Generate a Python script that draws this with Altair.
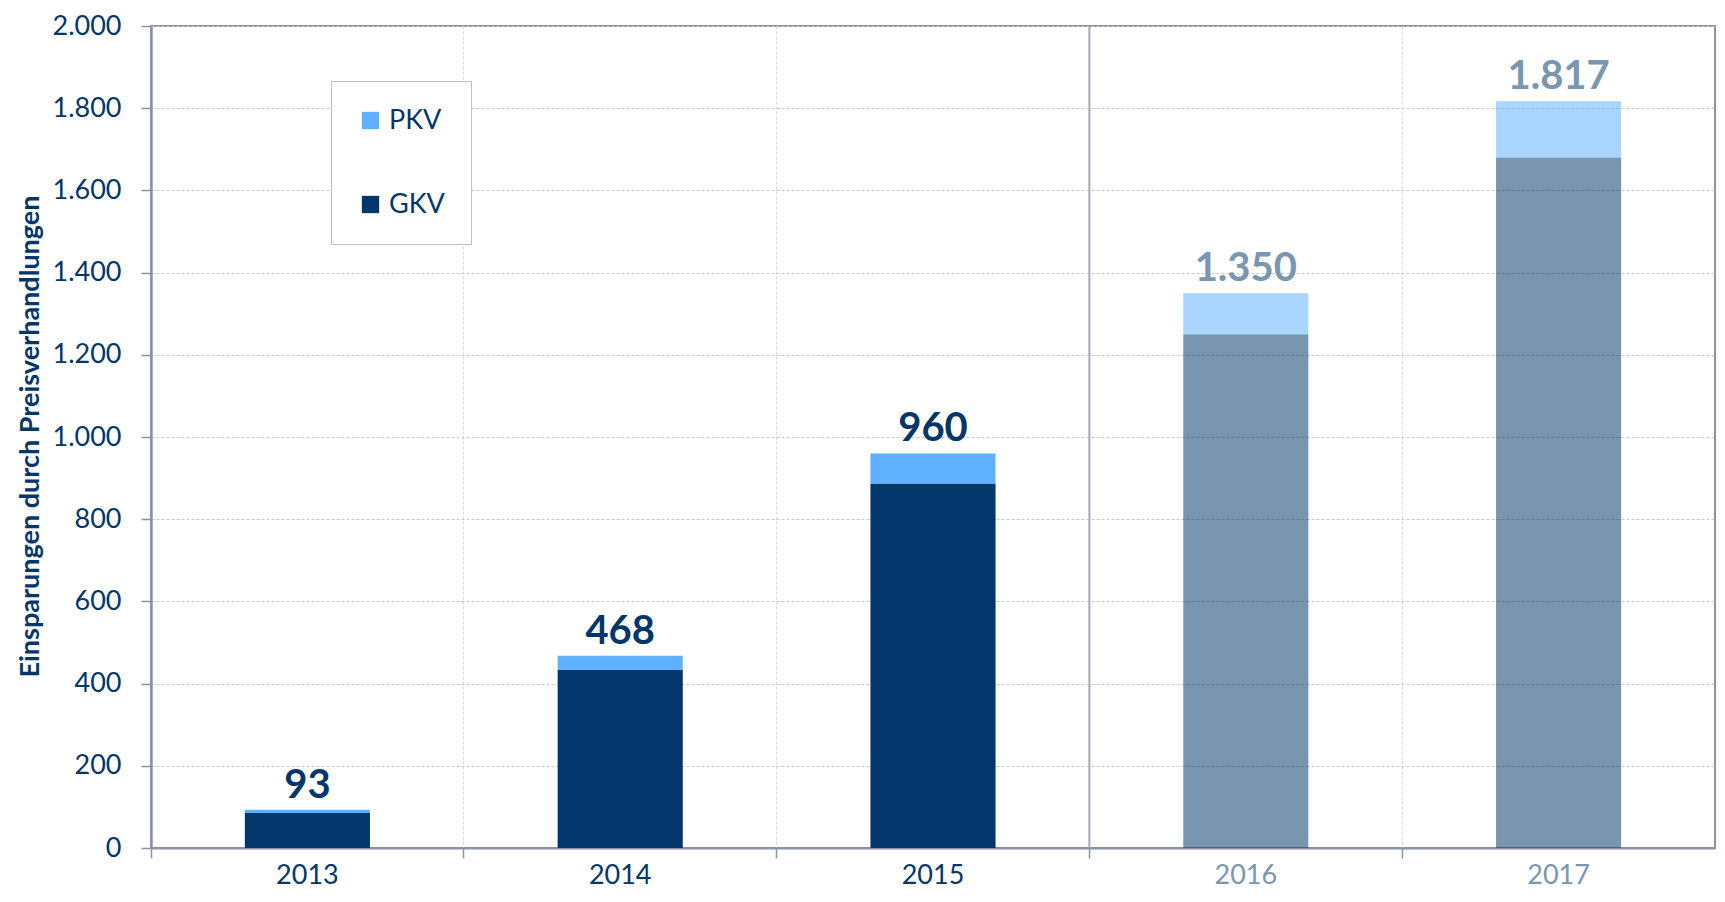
import altair as alt
import pandas as pd

years = ["2013", "2014", "2015", "2016", "2017"]
gkv = [85, 433, 887, 1250, 1680]
pkv = [8, 35, 73, 100, 137]
totals = [93, 468, 960, 1350, 1817]
forecast_years = ["2016", "2017"]
y_ticks = [0, 200, 400, 600, 800, 1000, 1200, 1400, 1600, 1800, 2000]

DARK = "#03366A"
LIGHT = "#5FB0FF"
FC_TEXT = "#7A96B0"
AXIS = "#8A93A6"
FONT = "Lato"

rows = []
for y, g, p in zip(years, gkv, pkv):
    rows.append({"Jahr": y, "Kasse": "GKV", "Wert": g, "ord": 0})
    rows.append({"Jahr": y, "Kasse": "PKV", "Wert": p, "ord": 1})
df = pd.DataFrame(rows)
df_tot = pd.DataFrame({"Jahr": years, "total": totals})
df_sep = pd.DataFrame({"Jahr": ["2016"], "Wert": [0]})

fc_test = "indexof(['2016','2017'], datum.Jahr) >= 0"

x_axis = alt.Axis(
    title=None, bandPosition=0, grid=True, gridColor="#D9D9D9", gridDash=[3, 2],
    domainColor=AXIS, domainWidth=2, tickColor=AXIS, tickSize=10, tickWidth=1.5,
    labelFont=FONT, labelFontSize=27, labelAngle=0, labelBaseline="alphabetic",
    labelPadding=25, labelAlign="center",
    labelColor={"condition": {"test": "indexof(['2016','2017'], datum.value) >= 0", "value": FC_TEXT}, "value": DARK},
)
y_axis = alt.Axis(
    values=y_ticks, labelExpr="replace(format(datum.value, ','), ',', '.')",
    grid=True, gridColor="#CFC8C0", gridDash=[3, 2],
    domainColor=AXIS, domainWidth=2.5, tickColor=AXIS, tickSize=10, tickWidth=1.5,
    labelFont=FONT, labelFontSize=27, labelColor=DARK, labelPadding=20,
    title="Einsparungen durch Preisverhandlungen", titleFont=FONT, titleFontSize=27,
    titleFontWeight="bold", titleColor=DARK, titleX=-121, titleY=410, titleAngle=270,
    titleAlign="center", titleBaseline="middle",
)

x_scale = alt.Scale(paddingInner=0, paddingOuter=0)
y_scale = alt.Scale(domain=[0, 2000], nice=False)

bars = alt.Chart(df).mark_bar(width={"band": 0.4}).encode(
    x=alt.X("Jahr:N", scale=x_scale, axis=x_axis),
    y=alt.Y("Wert:Q", stack="zero", scale=y_scale, axis=y_axis),
    color=alt.Color(
        "Kasse:N",
        scale=alt.Scale(domain=["PKV", "GKV"], range=[LIGHT, DARK]),
        legend=alt.Legend(
            orient="none", legendX=180, legendY=55, title=None, symbolType="square",
            symbolSize=300, symbolStrokeWidth=0, labelFont=FONT, labelFontSize=27,
            labelColor=DARK, padding=26, rowPadding=56, labelOffset=5,
            strokeColor="#BFBFBF", fillColor="white",
        ),
    ),
    order=alt.Order("ord:Q"),
    opacity=alt.condition(fc_test, alt.value(0.53), alt.value(1.0)),
)

labels = alt.Chart(df_tot).transform_calculate(
    lab="replace(format(datum.total, ','), ',', '.')"
).mark_text(baseline="bottom", dy=-4, font=FONT, fontSize=40, fontWeight="bold").encode(
    x=alt.X("Jahr:N", scale=x_scale, axis=x_axis),
    y=alt.Y("total:Q", scale=y_scale, axis=y_axis),
    text="lab:N",
    color=alt.condition(fc_test, alt.value(FC_TEXT), alt.value(DARK)),
)

sep = alt.Chart(df_sep).mark_rule(color="#A3A7B0", strokeWidth=2).encode(
    x=alt.X("Jahr:N", bandPosition=0, scale=x_scale, axis=x_axis),
)

chart = alt.layer(bars, sep, labels).properties(
    width=1564, height=822, autosize="none",
    padding={"left": 143, "top": 18, "right": 2, "bottom": 44},
).configure_view(stroke=AXIS, strokeWidth=2)

chart.save("out.html", embed_options={"renderer": "svg", "actions": False})
